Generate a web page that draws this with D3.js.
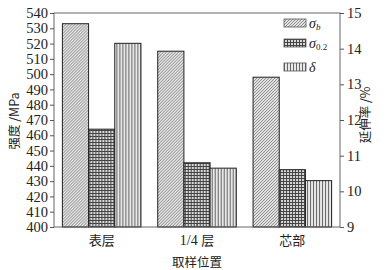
<!DOCTYPE html>
<html>
<head>
<meta charset="utf-8">
<script src="https://cdn.jsdelivr.net/npm/d3@7"></script>
<style>
  body { margin: 0; background: #fff; }
  text { font-family: "Liberation Serif", "Times New Roman", serif; fill: #222; }
  .cjk { font-family: "Noto Sans CJK SC", sans-serif; }
</style>
</head>
<body>
<svg width="392" height="270"></svg>
<script>
// data
var positions = ["表层", "1/4 层", "芯部"];
var sigmaB = [533, 515, 498];      // MPa
var sigma02 = [464, 442, 437.5];   // MPa
var delta = [14.15, 10.65, 10.3];  // %
var leftTicks = d3.range(400, 541, 10);
var rightTicks = [9, 10, 11, 12, 13, 14, 15];

var svg = d3.select("svg");
var margin = {top: 13, right: 52, bottom: 43, left: 54},
    width = 392 - margin.left - margin.right,
    height = 270 - margin.top - margin.bottom;

// patterns
var defs = svg.append("defs");
var pd = defs.append("pattern").attr("id", "pDiag").attr("patternUnits", "userSpaceOnUse")
    .attr("width", 3).attr("height", 3);
pd.append("rect").attr("width", 3).attr("height", 3).attr("fill", "#e2e2e2");
pd.append("path").attr("d", "M-1,1 L1,-1 M0,3 L3,0 M2,4 L4,2").attr("stroke", "#777").attr("stroke-width", 0.8);

var pg = defs.append("pattern").attr("id", "pGrid").attr("patternUnits", "userSpaceOnUse")
    .attr("width", 3).attr("height", 3);
pg.append("rect").attr("width", 3).attr("height", 3).attr("fill", "#d8d8d8");
pg.append("path").attr("d", "M0.5,0 V3 M0,0.5 H3").attr("stroke", "#444").attr("stroke-width", 1);

var pv = defs.append("pattern").attr("id", "pVert").attr("patternUnits", "userSpaceOnUse")
    .attr("width", 3).attr("height", 3);
pv.append("rect").attr("width", 3).attr("height", 3).attr("fill", "#e8e8e8");
pv.append("path").attr("d", "M0.5,0 V3").attr("stroke", "#666").attr("stroke-width", 1);

var g = svg.append("g").attr("transform", "translate(" + margin.left + "," + margin.top + ")");

var x0 = d3.scaleBand().domain(positions).range([0, width]).paddingInner(0.176).paddingOuter(0.088);
var series = ["b", "02", "d"];
var x1 = d3.scaleBand().domain(series).range([0, x0.bandwidth()]);
var yL = d3.scaleLinear().domain([400, 540]).range([height, 0]);
var yR = d3.scaleLinear().domain([9, 15]).range([height, 0]);

var fills = {b: "url(#pDiag)", "02": "url(#pGrid)", d: "url(#pVert)"};

var rows = positions.map(function(p, i) {
  return {pos: p, values: [
    {s: "b", y: yL(sigmaB[i])},
    {s: "02", y: yL(sigma02[i])},
    {s: "d", y: yR(delta[i])}
  ]};
});

var slice = g.selectAll(".slice").data(rows).enter().append("g")
    .attr("transform", function(d) { return "translate(" + x0(d.pos) + ",0)"; });

slice.selectAll("rect").data(function(d) { return d.values; }).enter().append("rect")
    .attr("x", function(d) { return x1(d.s); })
    .attr("y", function(d) { return d.y; })
    .attr("width", x1.bandwidth())
    .attr("height", function(d) { return height - d.y; })
    .attr("fill", function(d) { return fills[d.s]; })
    .attr("stroke", "#222").attr("stroke-width", 1);

// frame
g.append("rect").attr("width", width).attr("height", height)
    .attr("fill", "none").attr("stroke", "#666").attr("stroke-width", 1);

// axes
var left = g.append("g").call(d3.axisLeft(yL).tickValues(leftTicks).tickSize(4).tickPadding(2));
var right = g.append("g").attr("transform", "translate(" + width + ",0)")
    .call(d3.axisRight(yR).tickValues(rightTicks).tickFormat(d3.format("d")).tickSize(4).tickPadding(3));
var bottom = g.append("g").attr("transform", "translate(0," + height + ")")
    .call(d3.axisBottom(x0).tickSize(-3).tickPadding(9));

[left, right, bottom].forEach(function(a) {
  a.select(".domain").remove();
  a.selectAll("line").attr("stroke", "#555");
  a.selectAll("text").style("font-size", "14.5px").attr("fill", "#222");
});
bottom.selectAll("text").attr("class", "cjk").style("font-size", "13px");
// mix font for 1/4 层 label
bottom.selectAll("text").each(function(d) {
  var t = d3.select(this);
  if (d === "1/4 层") {
    t.text(null);
    t.append("tspan").style("font-family", "Liberation Serif, serif").style("font-size", "14px").text("1/4 ");
    t.append("tspan").text("层");
  }
});

// axis titles
svg.append("text").attr("class", "cjk")
    .attr("transform", "translate(19,121) rotate(-90)")
    .attr("text-anchor", "middle").style("font-size", "12.5px")
    .text("强度 /MPa");
svg.append("text").attr("class", "cjk")
    .attr("transform", "translate(370,115) rotate(-90)")
    .attr("text-anchor", "middle").style("font-size", "12.5px")
    .text("延伸率 /%");
svg.append("text").attr("class", "cjk")
    .attr("x", margin.left + width / 2).attr("y", 267)
    .attr("text-anchor", "middle").style("font-size", "12.5px")
    .text("取样位置");

// legend
var legendItems = [
  {s: "b", sub: "b"},
  {s: "02", sub: "0.2"},
  {s: "d", sub: null}
];
var legend = g.selectAll(".legend").data(legendItems).enter().append("g")
    .attr("transform", function(d, i) { return "translate(230," + [6, 26, 50][i] + ")"; });
legend.append("rect").attr("width", 22).attr("height", 8)
    .attr("fill", function(d) { return fills[d.s]; })
    .attr("stroke", "#555").attr("stroke-width", 0.8);
var lt = legend.append("text").attr("x", 25).attr("y", 9)
    .style("font-size", "14px").style("font-style", "italic");
lt.append("tspan").text(function(d) { return d.sub ? "σ" : "δ"; });
lt.filter(function(d) { return d.sub; }).append("tspan")
    .attr("dy", 2).style("font-size", "9px").style("font-style", function(d) { return d.sub === "b" ? "italic" : "normal"; })
    .text(function(d) { return d.sub; });
</script>
</body>
</html>
